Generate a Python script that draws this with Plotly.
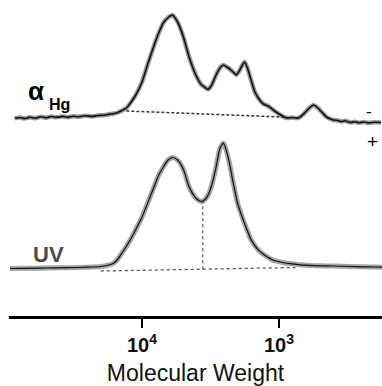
import plotly.graph_objects as go

# ---- data ----
# alpha_Hg trace: molecular weight vs detector response (a.u.)
top_mw = [85000, 78000, 72000, 66000, 60000, 55000, 50000, 46000, 42000, 38000,
          35000, 32000, 29000, 26000, 23000, 21000, 19000, 17500, 16000, 15000,
          14000, 13000, 12000, 11000, 10000, 9000, 8000, 7500, 7000, 6500,
          6000, 5500, 5000, 4500, 4000, 3700, 3500, 3300, 3100, 2900,
          2700, 2550, 2400, 2200, 2050, 1950, 1850, 1780, 1700, 1600,
          1500, 1400, 1300, 1200, 1100, 1000, 900, 850, 800, 750,
          700, 650, 600, 560, 520, 480, 450, 420, 400, 370,
          350, 330, 300, 280, 260, 240, 220, 200, 180]
top_sig = [-1.3, -0.5, -1.5, -0.3, -1.2, 0.2, -0.8, 0.5, -0.3, 0.6,
           -0.2, 0.8, 0.3, 1.2, 0.6, 1.5, 1.8, 2.6, 3.5, 4.5,
           6.5, 9, 15, 23, 35, 54.5, 75, 85, 94, 99,
           102, 95, 80.6, 58.7, 40.5, 32.5, 30, 27.5, 32, 41,
           49, 52, 50, 46, 42, 46, 52, 55, 49, 37,
           25, 18, 13, 11, 7, 3, -0.5, -1, -0.5, -1.2,
           0, 4, 9, 12, 9, 4, 0, -2, -3, -3.5,
           -4.5, -3.8, -5.5, -4.8, -5.8, -5, -6, -5.2, -5.5]
top_base_mw = [13000, 950]
top_base_sig = [6, 0]

# UV trace
uv_mw = [92000, 70000, 50000, 35000, 25000, 20000, 18000, 16000, 15000, 14000,
         13000, 12000, 11000, 10000, 9000, 8000, 7500, 7000, 6500, 6000,
         5500, 5000, 4500, 4000, 3700, 3500, 3300, 3100, 2900, 2700,
         2600, 2550, 2450, 2300, 2200, 2100, 2000, 1900, 1800, 1700,
         1600, 1500, 1400, 1300, 1200, 1100, 1000, 900, 800, 700,
         600, 500, 400, 300, 250, 200, 175]
uv_sig = [-0.5, -0.3, 0, 0.3, 0.8, 1.5, 2.5, 5, 9, 15,
          21.8, 29.8, 39.6, 51, 66.6, 84.3, 93.8, 100.8, 107.5, 110.5,
          108, 99, 80.2, 69.2, 66.5, 68, 72.6, 82.8, 98.9, 119.5,
          123.5, 125, 119.5, 104.9, 90.9, 77.3, 64, 55, 45.9, 37.2,
          28.4, 22.4, 17.3, 13.7, 10.6, 7.7, 6.4, 5, 4.2, 3.2,
          2.6, 2.2, 2, 1.5, 1.2, 1, 0.8]
uv_base_mw = [20000, 760]
uv_base_sig = [-3, 0.5]
uv_split_mw = [3600, 3600]
uv_split_sig = [-1.2, 66]

tick_vals = [1e4, 1e3]
tick_text = ["<b>10<sup>4</sup></b>", "<b>10<sup>3</sup></b>"]

fig = go.Figure()

# UV: thick grey + thin black
fig.add_trace(go.Scatter(x=uv_mw, y=uv_sig, mode="lines", yaxis="y",
                         line=dict(color="#a3a3a3", width=5, shape="spline", smoothing=0.7),
                         hoverinfo="skip", showlegend=False))
fig.add_trace(go.Scatter(x=uv_mw, y=uv_sig, mode="lines", yaxis="y",
                         line=dict(color="#111111", width=1.2, shape="spline", smoothing=0.7),
                         hoverinfo="skip", showlegend=False))
fig.add_trace(go.Scatter(x=uv_base_mw, y=uv_base_sig, mode="lines", yaxis="y",
                         line=dict(color="#555555", width=1.3, dash="dot"),
                         hoverinfo="skip", showlegend=False))
fig.add_trace(go.Scatter(x=uv_split_mw, y=uv_split_sig, mode="lines", yaxis="y",
                         line=dict(color="#555555", width=1.2, dash="dot"),
                         hoverinfo="skip", showlegend=False))

# alpha_Hg: grey halo + black noisy line
fig.add_trace(go.Scatter(x=top_mw, y=top_sig, mode="lines", yaxis="y2",
                         line=dict(color="#9a9a9a", width=4.5, shape="spline", smoothing=0.5),
                         hoverinfo="skip", showlegend=False))
fig.add_trace(go.Scatter(x=top_mw, y=top_sig, mode="lines", yaxis="y2",
                         line=dict(color="#111111", width=1.6, shape="spline", smoothing=0.5),
                         hoverinfo="skip", showlegend=False))
fig.add_trace(go.Scatter(x=top_base_mw, y=top_base_sig, mode="lines", yaxis="y2",
                         line=dict(color="#333333", width=1.5, dash="3px,2px"),
                         hoverinfo="skip", showlegend=False))

W, H = 382, 386
ml, mr, mt, mb = 9, 0, 0, 70
ph = H - mt - mb
pw = W - ml - mr


def px(xp):
    return (xp - ml) / pw


def py(yp):
    return (ph - (yp - mt)) / ph


annots = [
    dict(text="<b>α</b>", x=px(36), y=py(91), font=dict(size=26, color="#000000", family="Liberation Sans", weight="bold")),
    dict(text="<b>Hg</b>", x=px(59), y=py(104), font=dict(size=16, color="#000000", family="Liberation Sans", weight="bold")),
    dict(text="<b>UV</b>", x=px(48), y=py(254), font=dict(size=22, color="#4a4a4a", family="Liberation Sans", weight="bold")),
    dict(text="-", x=px(369), y=py(111), font=dict(size=17, color="#000000", family="Liberation Sans")),
    dict(text="+", x=px(372), y=py(141), font=dict(size=19, color="#000000", family="Liberation Sans")),
]
for a in annots:
    a.update(xref="paper", yref="paper", showarrow=False, xanchor="center", yanchor="middle")

fig.update_layout(
    width=W, height=H,
    margin=dict(l=ml, r=mr, t=mt, b=mb),
    paper_bgcolor="white", plot_bgcolor="white",
    font=dict(family="Liberation Sans", color="#111111"),
    xaxis=dict(type="log", range=[4.971, 2.248], showgrid=False, zeroline=False,
               showline=True, linecolor="black", linewidth=3,
               ticks="outside", ticklen=9, tickwidth=2, tickcolor="black",
               tickvals=tick_vals, ticktext=tick_text,
               tickfont=dict(size=20, color="#111111"),
               title=dict(text="Molecular Weight", font=dict(size=23, color="#111111"), standoff=10)),
    yaxis=dict(visible=False, range=[268 - ph, 268]),
    yaxis2=dict(visible=False, range=[117 - ph, 117], overlaying="y"),
    annotations=annots,
)

fig.write_html("out.html", config={"displayModeBar": False},
               post_script="document.body.style.margin='0px';document.body.style.overflow='hidden';")
